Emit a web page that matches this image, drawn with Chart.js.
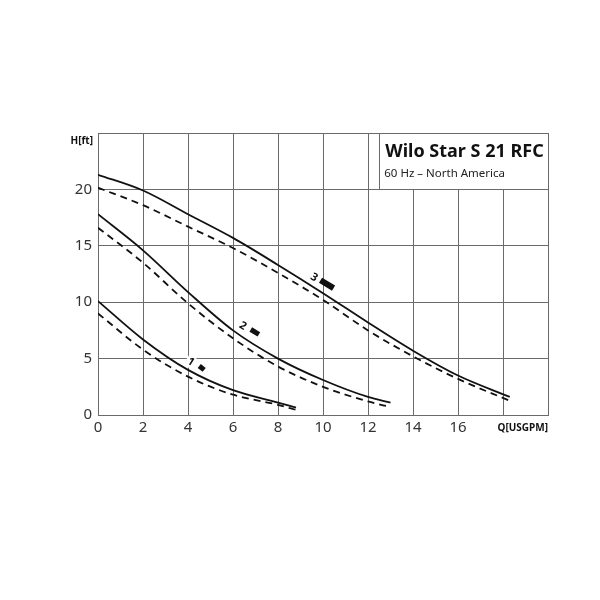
<!DOCTYPE html>
<html><head><meta charset="utf-8">
<style>html,body{margin:0;padding:0;background:#fff}#wrap{width:600px;height:600px}</style>
<script src="https://cdn.jsdelivr.net/npm/chart.js@4/dist/chart.umd.min.js"></script>
</head><body><div id="wrap"><canvas id="c" width="600" height="600"></canvas></div>
<script>
// ---- data ----
const c3X = [0,2,4,6,8,10,12,14,16,18.3];
const c3Solid = [21.3,19.9,17.8,15.7,13.3,10.8,8.2,5.7,3.5,1.6];
const c3DashX = [0,2,4,6,8,10,12,14,16,18.25];
const c3Dash = [20.15,18.6,16.7,14.8,12.6,10.2,7.5,5.2,3.2,1.3];
const c2X = [0,2,4,6,8,10,12,13];
const c2Solid = [17.8,14.6,10.9,7.5,5.0,3.1,1.6,1.1];
const c2Dash = [16.6,13.5,9.9,6.8,4.3,2.5,1.2,0.7];
const c1X = [0,2,4,6,8,8.8];
const c1Solid = [10.1,6.7,4.0,2.2,1.1,0.65];
const c1Dash = [9.0,5.8,3.4,1.8,0.9,0.45];
const markX = [[4.5,4.72],[6.79,7.15],[9.89,10.47]];
const markY = [[4.35,4.0],[7.58,7.14],[11.95,11.25]];
const markW = [5,5,6];
const labelText = ['1','2','3'];
const labelX = [4.12,6.44,9.6];
const labelY = [4.7,7.9,12.2];
const xTicks = [0,2,4,6,8,10,12,14,16];
const yTicks = [0,5,10,15,20];
const title = 'Wilo Star S 21 RFC';
const subtitle = '60 Hz \u2013 North America';
const yTitle = 'H[ft]';
const xTitle = 'Q[USGPM]';

const pts = (xs, ys) => xs.map((x,i)=>({x, y: ys[i]}));
const GRID = '#6a6a6a';
const FONT = "'Noto Sans', sans-serif";

const curve = (xs, ys, dashed) => ({
  data: pts(xs, ys), borderColor: '#111', borderWidth: 1.8,
  borderDash: dashed ? [7,5] : [], pointRadius: 0, fill: false,
  cubicInterpolationMode: 'monotone', showLine: true
});
const datasets = [
  curve(c3X, c3Solid, false), curve(c3DashX, c3Dash, true),
  curve(c2X, c2Solid, false), curve(c2X, c2Dash, true),
  curve(c1X, c1Solid, false), curve(c1X, c1Dash, true)
];
markX.forEach((mx, i) => datasets.push({
  data: pts(mx, markY[i]), borderColor: '#111', borderWidth: markW[i],
  borderCapStyle: 'butt', pointRadius: 0, showLine: true, tension: 0
}));

const decor = {
  id: 'decor',
  beforeDatasetsDraw(chart) {
    const {ctx, scales: {x, y}} = chart;
    ctx.save();
    ctx.font = "bold 11px " + FONT;
    ctx.textAlign = 'center'; ctx.textBaseline = 'middle';
    labelText.forEach((t, i) => {
      const px = x.getPixelForValue(labelX[i]), py = y.getPixelForValue(labelY[i]);
      ctx.save(); ctx.translate(px, py); ctx.rotate(0.55);
      ctx.fillStyle = '#fff'; ctx.fillRect(-5, -6, 10, 12);
      ctx.fillStyle = '#111'; ctx.fillText(t, 0, 0);
      ctx.restore();
    });
    ctx.restore();
  },
  afterDraw(chart) {
    const {ctx, scales: {x, y}} = chart;
    ctx.save();
    const l = x.getPixelForValue(12.5), r = x.getPixelForValue(20);
    const t = y.getPixelForValue(25), b = y.getPixelForValue(20);
    ctx.fillStyle = '#fff'; ctx.fillRect(l, t, r - l, b - t);
    ctx.strokeStyle = GRID; ctx.lineWidth = 1;
    ctx.strokeRect(Math.round(l) + 0.5, Math.round(t) + 0.5, Math.round(r - l), Math.round(b - t));
    ctx.fillStyle = '#111';
    ctx.textAlign = 'left'; ctx.textBaseline = 'alphabetic';
    ctx.font = "bold 18px " + FONT;
    ctx.fillText(title, l + 6, t + 24);
    ctx.font = "11.5px " + FONT;
    ctx.fillStyle = '#222';
    ctx.fillText(subtitle, l + 5, t + 44);
    ctx.font = "bold 10px " + FONT;
    ctx.fillStyle = '#111';
    ctx.textAlign = 'right';
    ctx.fillText(yTitle, x.left - 5, t + 11);
    ctx.fillText(xTitle, r, y.bottom + 16);
    ctx.restore();
  }
};

new Chart(document.getElementById('c'), {
  type: 'scatter',
  data: { datasets },
  options: {
    responsive: false, animation: false, devicePixelRatio: 1,
    layout: { padding: { left: 0, top: 133, right: 52, bottom: 145 } },
    plugins: { legend: { display: false }, tooltip: { enabled: false } },
    scales: {
      x: {
        type: 'linear', min: 0, max: 20,
        afterFit(s) { s.height = 40; },
        afterBuildTicks(s) { s.ticks = [0,2,4,6,8,10,12,14,16,18,20].map(v => ({value: v})); },
        grid: { color: GRID, lineWidth: 1, drawTicks: false },
        border: { color: GRID, width: 1 },
        ticks: {
          padding: 4, color: '#333', font: { family: FONT, size: 15 },
          callback: v => xTicks.includes(v) ? String(v) : ''
        }
      },
      y: {
        type: 'linear', min: 0, max: 25,
        afterFit(s) { s.width = 98; },
        afterBuildTicks(s) { s.ticks = [0,5,10,15,20,25].map(v => ({value: v})); },
        grid: { color: GRID, lineWidth: 1, drawTicks: false },
        border: { color: GRID, width: 1 },
        ticks: {
          padding: 6, color: '#333', font: { family: FONT, size: 15 },
          callback: v => yTicks.includes(v) ? String(v) : ''
        }
      }
    }
  },
  plugins: [decor]
});
</script></body></html>
